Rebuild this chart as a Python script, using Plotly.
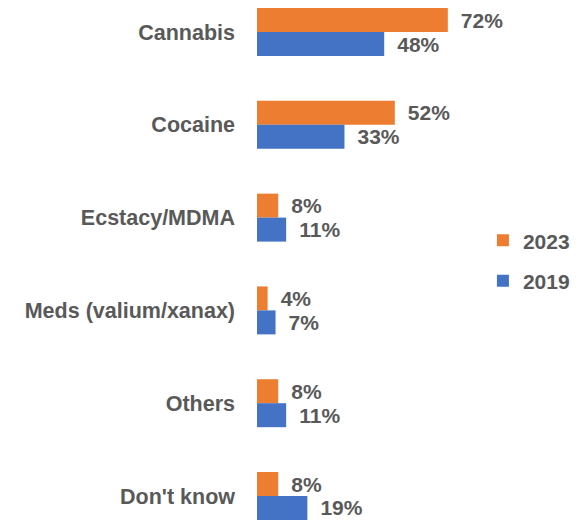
import plotly.graph_objects as go

# Substances reported, share of respondents (%)
categories = ["Cannabis", "Cocaine", "Ecstacy/MDMA", "Meds (valium/xanax)", "Others", "Don't know"]
values_2023 = [72, 52, 8, 4, 8, 8]
values_2019 = [48, 33, 11, 7, 11, 19]

ORANGE = "#ED7D31"
BLUE = "#4472C4"
TEXT = "#595959"
FONT = "Liberation Sans, Arial, sans-serif"

fig = go.Figure()
for name, vals, color in [("2023", values_2023, ORANGE), ("2019", values_2019, BLUE)]:
    fig.add_trace(go.Bar(
        name=name,
        y=categories,
        x=vals,
        orientation="h",
        marker=dict(color=color, line=dict(width=0)),
        texttemplate="\u00a0\u2009%{x}%",
        textposition="outside",
        constraintext="none",
        cliponaxis=False,
        textfont=dict(family=FONT, size=21, color=TEXT, weight="bold"),
        legendgroup=name,
        hoverinfo="skip",
    ))

fig.update_layout(
    width=577,
    height=523,
    margin=dict(l=257, r=0, t=0, b=0),
    paper_bgcolor="white",
    plot_bgcolor="white",
    barmode="group",
    bargap=0.483,
    bargroupgap=0,
    font=dict(family=FONT, color=TEXT),
    legend=dict(
        x=0.706, y=0.579, xanchor="left", yanchor="top",
        traceorder="grouped",
        tracegroupgap=10,
        font=dict(family=FONT, size=21, color=TEXT, weight="bold"),
        bgcolor="rgba(0,0,0,0)",
    ),
    xaxis=dict(
        range=[0, 120.75],
        visible=False,
        showgrid=False,
        zeroline=False,
        fixedrange=True,
    ),
    yaxis=dict(
        type="category",
        range=[5.291, -0.345],
        showgrid=False,
        zeroline=False,
        showline=False,
        ticks="",
        ticklabelstandoff=21,
        tickfont=dict(family=FONT, size=21.5, color=TEXT, weight="bold"),
        fixedrange=True,
    ),
)

fig.write_html("out.html")
